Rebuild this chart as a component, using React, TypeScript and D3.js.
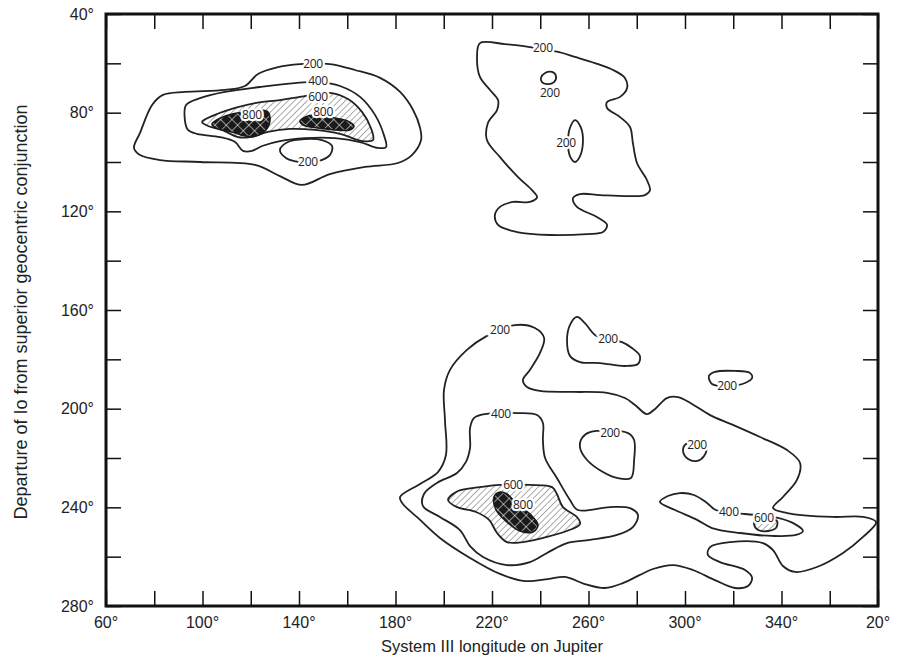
import { useEffect, useRef } from "react";
import * as d3 from "d3";

type Pt = [number, number];

// axis ticks (degrees)
const xTickValues = [60, 80, 100, 120, 140, 160, 180, 200, 220, 240, 260, 280, 300, 320, 340, 360, 380];
const xLabelValues = [60, 100, 140, 180, 220, 260, 300, 340, 380];
const xLabelText = ["60°", "100°", "140°", "180°", "220°", "260°", "300°", "340°", "20°"];
const yTickValues = [40, 60, 80, 100, 120, 140, 160, 180, 200, 220, 240, 260, 280];
const yLabelValues = [40, 80, 120, 160, 200, 240, 280];

// contour outlines, [System III longitude, departure of Io]
const nw200: Pt[] = [
  [71.6, 94.3], [74.1, 88.2], [79.1, 76.9], [83.6, 72.8], [92.7, 71.6], [109.3, 70.8], [117.6, 69.2],
  [123.0, 64.3], [131.3, 61.5], [140.4, 60.3], [152.8, 60.3], [163.2, 62.7], [173.6, 65.9], [181.9, 71.6],
  [187.3, 78.9], [190.2, 86.2], [190.6, 91.1], [186.8, 97.2], [181.0, 100.4], [167.4, 102.0], [152.8, 104.9],
  [141.2, 109.3], [132.1, 105.7], [121.8, 101.2], [99.0, 100.0], [82.4, 99.2], [74.1, 97.2],
];
const nw400: Pt[] = [
  [93.2, 76.9], [92.7, 83.0], [94.0, 87.0], [97.7, 88.6], [107.3, 89.9], [113.5, 91.9], [116.8, 95.5],
  [120.5, 95.5], [124.7, 93.5], [132.1, 91.5], [142.5, 90.3], [154.9, 90.3], [165.3, 91.9], [172.7, 94.3],
  [176.1, 93.9], [175.2, 89.1], [171.5, 80.9], [165.3, 73.6], [157.0, 69.2], [148.7, 67.6], [138.3, 68.0],
  [123.8, 69.6], [109.3, 71.6], [99.0, 74.1],
];
const nw600: Pt[] = [
  [99.8, 83.8], [105.2, 80.9], [113.5, 78.1], [121.8, 76.1], [132.1, 74.9], [140.4, 73.6], [152.8, 72.0],
  [160.3, 74.5], [166.1, 79.7], [169.8, 86.2], [170.7, 91.1], [166.1, 91.5], [157.0, 88.6], [146.6, 87.0],
  [136.3, 86.6], [127.1, 87.8], [119.7, 89.9], [114.7, 89.9], [108.1, 87.0], [102.3, 85.4],
];
const nw800a: Pt[] = [
  [103.9, 84.6], [107.3, 82.2], [112.2, 80.5], [117.6, 79.7], [123.8, 78.9], [127.2, 79.7], [128.0, 83.0],
  [126.3, 87.0], [122.2, 89.5], [117.6, 89.5], [112.2, 87.8], [106.4, 86.6],
];
const nw800b: Pt[] = [
  [140.4, 83.4], [142.5, 81.8], [145.4, 80.9], [154.9, 82.2], [160.3, 83.4], [162.8, 85.4], [161.1, 87.0],
  [154.9, 87.0], [147.9, 86.2], [141.7, 85.0],
];
const nwLow200: Pt[] = [
  [132.1, 95.1], [135.4, 91.9], [142.5, 90.7], [149.5, 91.1], [153.7, 93.5], [152.8, 97.2], [147.9, 99.6],
  [140.4, 100.0], [134.6, 98.4],
];
const n200: Pt[] = [
  [215.0, 51.8], [225.4, 52.2], [235.7, 53.4], [247.4, 55.4], [254.4, 57.4], [262.7, 59.9], [270.2, 62.7],
  [275.1, 65.9], [276.0, 70.0], [273.1, 73.6], [267.7, 75.7], [267.7, 78.1], [273.1, 81.8], [277.2, 85.8],
  [278.4, 92.3], [280.1, 100.4], [284.2, 107.3], [285.5, 111.4], [283.4, 113.4], [276.0, 113.8], [264.8, 113.4],
  [256.5, 113.0], [253.6, 114.6], [255.2, 118.2], [263.5, 122.3], [267.7, 125.5], [266.0, 128.4], [259.4, 129.2],
  [244.0, 129.6], [230.4, 128.4], [222.5, 125.5], [221.2, 121.5], [223.3, 118.2], [228.7, 116.2], [235.7, 116.2],
  [238.7, 114.2], [236.6, 111.4], [230.8, 106.1], [223.3, 98.0], [217.9, 91.1], [218.3, 84.2], [222.1, 78.9],
  [222.5, 74.9], [219.2, 70.8], [215.0, 65.5], [213.8, 57.4],
];
const nDot200: Pt[] = [
  [240.3, 65.9], [242.0, 63.9], [244.9, 63.5], [246.5, 65.1], [245.7, 67.6], [242.8, 68.4], [240.7, 67.6],
];
const nOval200: Pt[] = [
  [254.4, 83.0], [256.9, 86.2], [257.7, 91.9], [256.5, 97.6], [254.4, 100.0], [252.3, 97.6], [251.5, 91.9],
  [252.3, 86.2],
];
const s200: Pt[] = [
  [209.6, 176.2], [217.9, 170.5], [229.5, 166.1], [237.8, 167.3], [241.6, 171.4], [239.9, 177.4], [235.7, 184.3],
  [232.8, 188.4], [234.5, 191.2], [239.9, 192.8], [253.6, 193.2], [267.7, 193.6], [275.1, 195.7], [279.3, 198.5],
  [284.2, 202.2], [287.6, 200.1], [292.5, 195.7], [297.1, 195.3], [302.9, 198.1], [310.4, 202.6], [319.9, 206.6],
  [331.1, 211.5], [342.3, 216.8], [347.7, 222.0], [346.4, 228.9], [340.6, 235.8], [336.5, 240.3], [342.3, 242.3],
  [361.3, 243.9], [373.8, 243.9], [379.2, 246.0], [373.8, 252.0], [365.5, 258.5], [354.7, 264.2], [345.6, 266.2],
  [340.6, 263.8], [336.5, 257.3], [332.3, 254.5], [318.7, 254.1], [310.4, 256.1], [309.5, 259.3], [314.5, 262.2],
  [324.9, 265.4], [327.8, 268.6], [326.1, 271.9], [320.7, 272.7], [312.4, 269.5], [303.3, 265.4], [295.0, 263.4],
  [286.7, 265.0], [281.3, 267.4], [274.3, 270.7], [266.8, 272.7], [258.5, 271.1], [250.3, 268.2], [243.2, 269.1],
  [233.7, 269.9], [223.3, 267.0], [210.9, 260.5], [198.4, 252.4], [189.3, 244.3], [182.7, 238.2], [181.9, 235.8],
  [190.2, 230.5], [197.6, 225.7], [200.9, 218.8], [200.5, 204.6], [200.1, 192.4], [202.6, 184.3],
];
const sTop200: Pt[] = [
  [255.2, 162.8], [252.3, 166.1], [251.1, 172.2], [252.3, 178.6], [256.5, 181.1], [264.8, 181.5], [275.1, 182.7],
  [280.5, 181.9], [281.3, 178.6], [278.0, 175.4], [273.9, 173.0], [268.1, 171.8], [262.7, 170.1], [258.5, 165.3],
];
const sEast200: Pt[] = [
  [309.9, 186.8], [312.4, 185.1], [320.7, 184.7], [326.9, 185.5], [327.8, 187.6], [324.9, 189.6], [317.9, 190.8],
  [311.2, 190.0],
];
const sMid200: Pt[] = [
  [260.6, 209.5], [257.3, 211.9], [256.5, 215.9], [259.4, 220.8], [266.0, 225.7], [271.8, 228.1], [277.6, 228.1],
  [278.9, 220.8], [278.9, 212.7], [276.4, 209.9],
];
const sSmall200: Pt[] = [
  [300.4, 214.3], [299.2, 217.2], [301.3, 220.4], [305.0, 221.2], [307.9, 219.2], [308.7, 215.9], [304.5, 214.0],
];
const s400: Pt[] = [
  [217.1, 202.2], [212.5, 203.8], [210.9, 207.8], [210.9, 215.9], [209.2, 221.6], [205.5, 226.1], [197.2, 230.1],
  [191.8, 234.6], [191.4, 239.5], [198.4, 243.9], [206.7, 249.2], [210.9, 255.7], [216.3, 260.1], [226.2, 263.4],
  [235.7, 262.2], [242.8, 258.5], [251.1, 254.5], [260.6, 253.2], [271.8, 251.2], [278.4, 248.0], [280.5, 243.1],
  [277.2, 240.3], [268.9, 239.9], [255.6, 241.1], [252.3, 237.0], [246.9, 228.1], [242.0, 220.0], [241.1, 212.7],
  [241.1, 205.8], [238.7, 202.6], [230.8, 201.8],
];
const s600: Pt[] = [
  [201.8, 237.0], [205.9, 233.4], [215.0, 231.8], [223.3, 230.9], [235.7, 230.9], [244.9, 231.8], [246.9, 234.6],
  [249.4, 239.9], [255.2, 243.9], [256.5, 246.8], [253.2, 248.8], [242.8, 252.0], [232.9, 254.1], [226.2, 254.1],
  [222.1, 250.4], [218.8, 245.1], [213.4, 241.9], [205.5, 239.9],
];
const s800: Pt[] = [
  [220.8, 235.8], [223.3, 233.8], [226.2, 234.6], [230.8, 239.1], [236.2, 243.1], [239.1, 247.2], [237.0, 250.0],
  [231.6, 249.6], [226.2, 246.0], [221.7, 241.1],
];
const se400: Pt[] = [
  [289.6, 237.8], [292.9, 235.4], [297.9, 234.2], [303.7, 235.0], [309.1, 238.2], [312.8, 241.1], [324.9, 242.7],
  [338.5, 244.3], [345.6, 246.8], [348.9, 249.6], [346.0, 251.2], [336.1, 251.6], [322.8, 250.4], [311.2, 248.4],
  [305.0, 245.1], [295.9, 241.1],
];
const se600: Pt[] = [
  [328.6, 246.8], [330.3, 249.2], [334.4, 249.6], [337.7, 248.4], [338.1, 245.5], [333.2, 245.1], [329.0, 245.5],
];

// contour labels: [longitude, departure, text]
const contourLabels: [number, number, string][] = [
  [145.8, 60.0, "200"], [147.9, 66.9, "400"], [147.9, 73.6, "600"], [120.5, 80.9, "800"], [150.0, 79.7, "800"],
  [143.7, 100.0, "200"], [241.1, 53.8, "200"], [244.0, 72.0, "200"], [250.7, 92.3, "200"],
  [223.3, 168.1, "200"], [268.1, 171.8, "200"], [317.4, 190.8, "200"], [268.9, 209.9, "200"], [305.0, 214.7, "200"],
  [223.7, 202.2, "400"], [228.7, 230.9, "600"], [232.8, 239.1, "800"], [318.2, 241.9, "400"], [332.7, 244.3, "600"],
];

const W = 906;
const H = 659;
const font = "'Liberation Sans', Arial, sans-serif";

export default function App() {
  const ref = useRef<SVGSVGElement>(null);

  useEffect(() => {
    if (!ref.current) return;
    const svg = d3.select(ref.current);
    svg.selectAll("*").remove();

    const x = d3.scaleLinear().domain([60, 380]).range([106, 878]);
    const y = d3.scaleLinear().domain([40, 280]).range([14, 606]);

    const defs = svg.append("defs");
    const hatch = defs
      .append("pattern")
      .attr("id", "hatch")
      .attr("patternUnits", "userSpaceOnUse")
      .attr("width", 4.5)
      .attr("height", 4.5)
      .attr("patternTransform", "rotate(45)");
    hatch.append("rect").attr("width", 4.5).attr("height", 4.5).attr("fill", "#fff");
    hatch.append("line").attr("x1", 0).attr("y1", 0).attr("x2", 0).attr("y2", 4.5)
      .attr("stroke", "#666").attr("stroke-width", 1.1);

    const cross = defs
      .append("pattern")
      .attr("id", "cross")
      .attr("patternUnits", "userSpaceOnUse")
      .attr("width", 8)
      .attr("height", 8)
      .attr("patternTransform", "rotate(45)");
    cross.append("rect").attr("width", 8).attr("height", 8).attr("fill", "#1a1a1a");
    cross.append("line").attr("x1", 0).attr("y1", 0).attr("x2", 0).attr("y2", 8)
      .attr("stroke", "#fff").attr("stroke-width", 1.1);
    cross.append("line").attr("x1", 0).attr("y1", 0).attr("x2", 8).attr("y2", 0)
      .attr("stroke", "#fff").attr("stroke-width", 1.1);

    svg.append("rect").attr("width", W).attr("height", H).attr("fill", "#fff");

    const line = d3
      .line<Pt>()
      .x((d) => x(d[0]))
      .y((d) => y(d[1]))
      .curve(d3.curveCatmullRomClosed.alpha(0.5));

    const plain = [nw200, nw400, nwLow200, n200, nDot200, nOval200, s200, sTop200, sEast200, sMid200, sSmall200, s400, se400];
    const hatched = [nw600, s600, se600];
    const dark = [nw800a, nw800b, s800];

    const g = svg.append("g");
    g.selectAll("path.plain")
      .data(plain)
      .join("path")
      .attr("class", "plain")
      .attr("d", (d) => line(d))
      .attr("fill", "none")
      .attr("stroke", "#222")
      .attr("stroke-width", 1.8)
      .attr("stroke-linejoin", "round");
    g.selectAll("path.hatched")
      .data(hatched)
      .join("path")
      .attr("class", "hatched")
      .attr("d", (d) => line(d))
      .attr("fill", "url(#hatch)")
      .attr("stroke", "#222")
      .attr("stroke-width", 1.8);
    g.selectAll("path.dark")
      .data(dark)
      .join("path")
      .attr("class", "dark")
      .attr("d", (d) => line(d))
      .attr("fill", "url(#cross)")
      .attr("stroke", "#1a1a1a")
      .attr("stroke-width", 1.5);

    g.selectAll("text.lab")
      .data(contourLabels)
      .join("text")
      .attr("class", "lab")
      .attr("x", (d) => x(d[0]))
      .attr("y", (d) => y(d[1]))
      .attr("dy", "0.36em")
      .attr("text-anchor", "middle")
      .attr("font-family", "'Open Sans', sans-serif")
      .attr("font-size", 12)
      .attr("letter-spacing", -0.3)
      .attr("fill", "#222")
      .attr("stroke", "#fff")
      .attr("stroke-width", 4.5)
      .attr("paint-order", "stroke")
      .text((d) => d[2]);

    // inward ticks on all four sides
    const tickStyle = (sel: d3.Selection<SVGGElement, unknown, null, undefined>) => {
      sel.select(".domain").remove();
      sel.selectAll(".tick line").attr("stroke", "#111").attr("stroke-width", 1.5);
      sel.selectAll(".tick text").remove();
    };
    svg.append("g").attr("transform", "translate(0,606)")
      .call(d3.axisBottom(x).tickValues(xTickValues).tickSize(-15)).call(tickStyle);
    svg.append("g").attr("transform", "translate(0,14)")
      .call(d3.axisTop(x).tickValues(xTickValues).tickSize(-15)).call(tickStyle);
    svg.append("g").attr("transform", "translate(106,0)")
      .call(d3.axisLeft(y).tickValues(yTickValues).tickSize(-15)).call(tickStyle);
    svg.append("g").attr("transform", "translate(878,0)")
      .call(d3.axisRight(y).tickValues(yTickValues).tickSize(-15)).call(tickStyle);

    svg.append("rect")
      .attr("x", x(60)).attr("y", y(40))
      .attr("width", x(380) - x(60)).attr("height", y(280) - y(40))
      .attr("fill", "none").attr("stroke", "#111").attr("stroke-width", 3);

    svg.append("g").selectAll("text")
      .data(xLabelValues)
      .join("text")
      .attr("x", (d) => x(d))
      .attr("y", 628)
      .attr("text-anchor", "middle")
      .attr("font-family", font)
      .attr("font-size", 16)
      .attr("fill", "#222")
      .text((_, i) => xLabelText[i]);

    svg.append("g").selectAll("text")
      .data(yLabelValues)
      .join("text")
      .attr("x", 94)
      .attr("y", (d) => y(d))
      .attr("dy", "0.36em")
      .attr("text-anchor", "end")
      .attr("font-family", font)
      .attr("font-size", 16)
      .attr("fill", "#222")
      .text((d) => `${d}°`);

    svg.append("text")
      .attr("x", 492)
      .attr("y", 652)
      .attr("text-anchor", "middle")
      .attr("font-family", font)
      .attr("font-size", 16.5)
      .attr("fill", "#222")
      .text("System III longitude on Jupiter");

    svg.append("text")
      .attr("transform", "translate(27,312) rotate(-90)")
      .attr("text-anchor", "middle")
      .attr("font-family", font)
      .attr("font-size", 18)
      .attr("fill", "#222")
      .text("Departure of Io from superior geocentric conjunction");
  }, []);

  return (
    <svg
      ref={ref}
      width={W}
      height={H}
      style={{ position: "absolute", left: 0, top: 0, display: "block" }}
    />
  );
}
